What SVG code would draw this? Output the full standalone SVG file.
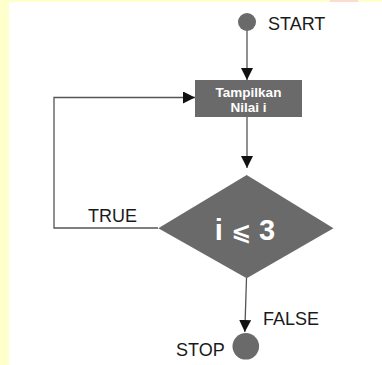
<svg xmlns="http://www.w3.org/2000/svg" width="382" height="365" viewBox="0 0 382 365">
  <style>
    .lbl { font-family: "Liberation Sans", Arial, sans-serif; font-size: 18px; fill: #1a1a1a; }
    .inbox { font-family: "Liberation Sans", Arial, sans-serif; font-weight: bold; fill: #ffffff; text-anchor: middle; }
    .shape { fill: #6a6a6a; }
    .wire { fill: none; stroke: #555555; stroke-width: 1.3; }
  </style>
  <defs>
    <marker id="arrow" viewBox="0 0 12 12" refX="12" refY="6" markerWidth="12" markerHeight="12" markerUnits="userSpaceOnUse" orient="auto">
      <path d="M0,0 L12,6 L0,12 Z" fill="#111111"/>
    </marker>
  </defs>

  <!-- page background with frame strip -->
  <rect x="0" y="0" width="382" height="365" fill="#ffffcc"/>
  <rect x="9" y="2" width="373" height="363" fill="#ffffff"/>
  <rect x="330" y="0" width="28" height="2" fill="#fbdcd2"/>

  <!-- connectors -->
  <g id="connectors">
    <line class="wire" x1="247" y1="30" x2="247" y2="80" marker-end="url(#arrow)"/>
    <line class="wire" x1="247" y1="117" x2="247" y2="168" marker-end="url(#arrow)"/>
    <polyline class="wire" points="158,228 54,228 54,97.5 195,97.5" marker-end="url(#arrow)"/>
    <line class="wire" x1="246.5" y1="278" x2="244.8" y2="332" marker-end="url(#arrow)"/>
    <text class="lbl" x="88" y="222">TRUE</text>
    <text class="lbl" x="263" y="325">FALSE</text>
  </g>

  <!-- start terminal -->
  <g id="start">
    <circle class="shape" cx="247" cy="22" r="9"/>
    <text class="lbl" x="268" y="30">START</text>
  </g>

  <!-- output step -->
  <g id="tampilkan">
    <rect class="shape" x="195" y="80" width="107" height="37"/>
    <text class="inbox" x="248.5" y="96.5" font-size="13.5">Tampilkan</text>
    <text class="inbox" x="248.5" y="111.5" font-size="13.5">Nilai i</text>
  </g>

  <!-- loop condition -->
  <g id="decision">
    <polygon class="shape" points="246.7,175 333.5,228.3 246.7,278.3 158.3,228.3"/>
    <text class="inbox" x="245" y="239.5" font-size="29">i <tspan font-family="'DejaVu Sans', 'Liberation Sans', sans-serif" font-size="24">⩽</tspan> 3</text>
  </g>

  <!-- stop terminal -->
  <g id="stop">
    <circle class="shape" cx="245.8" cy="346.3" r="13.3"/>
    <text class="lbl" x="176" y="356">STOP</text>
  </g>
</svg>
